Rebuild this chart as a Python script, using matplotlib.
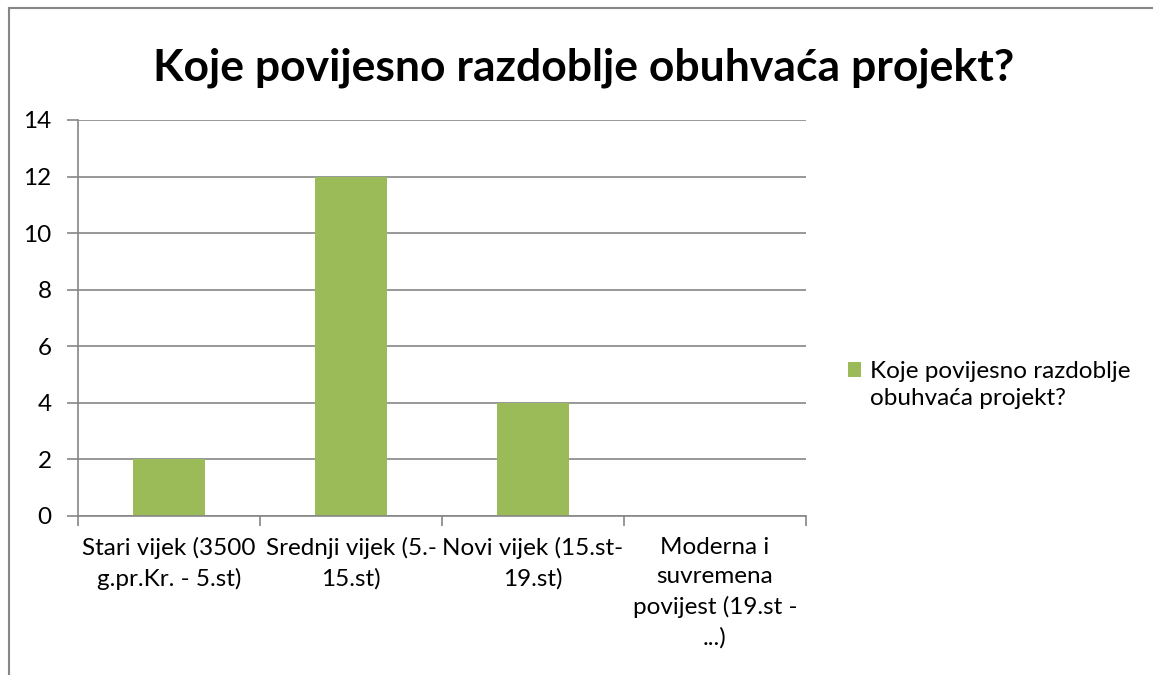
import matplotlib

matplotlib.use("Agg")
import matplotlib.pyplot as plt
import numpy as np
from matplotlib.lines import Line2D

plt.rcParams["font.family"] = ["Lato", "DejaVu Sans"]

title = "Koje povijesno razdoblje obuhvaća projekt?"
series_name = "Koje povijesno razdoblje\nobuhvaća projekt?"
categories = [
    "Stari vijek (3500\ng.pr.Kr. - 5.st)",
    "Srednji vijek (5.-\n15.st)",
    "Novi vijek (15.st-\n19.st)",
    "Moderna i\nsuvremena\npovijest (19.st -\n...)",
]
values = [2, 12, 4, 0]
yticks = [0, 2, 4, 6, 8, 10, 12, 14]

GREEN = "#9BBB59"
GREY = "#868686"
FS = 17.5

W, H = 1153, 675
fig = plt.figure(figsize=(W / 100, H / 100), dpi=100)
ax = fig.add_axes([78 / W, 1 - 516 / H, (806 - 78) / W, (516 - 120) / H])

x = np.arange(len(categories)) + 0.5
ax.bar(x, values, width=0.4, color=GREEN, label=series_name, zorder=3)

ax.set_xlim(0, len(categories))
ax.set_ylim(0, 14)
ax.set_yticks(yticks)
ax.yaxis.grid(True, color=GREY, linewidth=1.2, zorder=0)
ax.set_xticks(x)
ax.set_xticklabels(categories, fontsize=FS, linespacing=1.5)
ax.set_xticks(np.arange(len(categories) + 1), minor=True)
ax.tick_params(axis="x", which="major", length=0, pad=15)
ax.tick_params(axis="x", which="minor", length=7, width=1.2, color=GREY)
ax.tick_params(axis="y", length=8, width=1.2, color=GREY, labelsize=FS, pad=11)
for side in ("top", "right"):
    ax.spines[side].set_visible(False)
for side in ("left", "bottom"):
    ax.spines[side].set_color(GREY)
    ax.spines[side].set_linewidth(1.2)
    ax.spines[side].set_zorder(4)

fig.text(584 / W, 1 - 68 / H, title, fontsize=32, fontweight="bold",
         ha="center", va="center")

leg = ax.legend(loc="center left", bbox_to_anchor=(826 / W, 1 - 385 / H),
                bbox_transform=fig.transFigure, frameon=False, fontsize=FS,
                handlelength=0.54, handleheight=0.54, handletextpad=0.37)
for t in leg.get_texts():
    t.set_linespacing(1.4)
# Excel puts the square next to the first line of a wrapped label
sq = leg.legend_handles[0]
sq.set_y(sq.get_y() + 11)

# outer chart border (only left and top edges fall inside the picture)
fig.add_artist(Line2D([9 / W, 9 / W], [0, 1 - 8 / H], color=GREY, lw=1.5,
                      transform=fig.transFigure))
fig.add_artist(Line2D([9 / W, 1], [1 - 8 / H, 1 - 8 / H], color=GREY, lw=1.5,
                      transform=fig.transFigure))

fig.savefig("out.png", dpi=100)
